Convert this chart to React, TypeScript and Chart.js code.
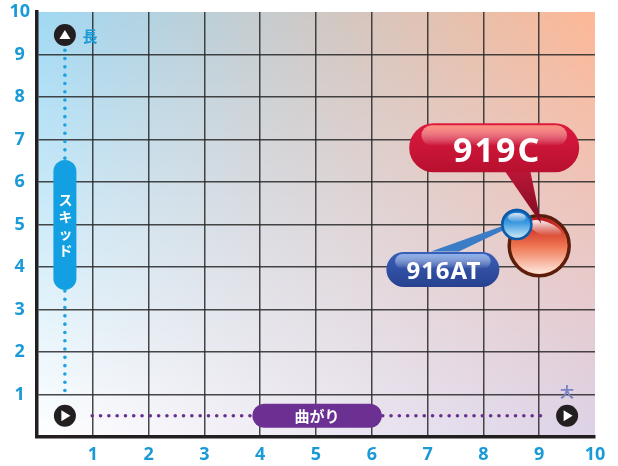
import React, { useEffect, useRef } from 'react';
import { Chart, registerables } from 'chart.js';

Chart.register(...registerables);

// ---- data ----
const xTickLabels = ['', '1', '2', '3', '4', '5', '6', '7', '8', '9', '10'];
const yTickLabels = ['', '1', '2', '3', '4', '5', '6', '7', '8', '9', '10'];
const productNames = ['919C', '916AT'];
const curveValues = [9.0, 8.6]; // x: 曲がり
const skidValues = [4.5, 5.0]; // y: スキッド
const yAxisTitle = 'スキッド';
const xAxisTitle = '曲がり';
const yEndLabel = '長';
const xEndLabel = '大';

const FONT = '"Noto Sans", "DejaVu Sans", sans-serif';
const JFONT = '"Noto Sans CJK JP", "Noto Sans", sans-serif';

type RGB = [number, number, number];
const mix = (a: RGB, b: RGB, t: number): RGB => [0, 1, 2].map(i => Math.round(a[i] + (b[i] - a[i]) * t)) as RGB;
const rgb = (c: RGB) => `rgb(${c[0]},${c[1]},${c[2]})`;

const bgPlugin = {
  id: 'bgGradient',
  beforeDraw(chart: any) {
    const { ctx, chartArea: a } = chart;
    const TL: RGB = [160, 217, 244];
    const TR: RGB = [253, 184, 150];
    const BL: RGB = [255, 255, 255];
    const BR: RGB = [220, 211, 232];
    ctx.save();
    const top = Math.floor(a.top);
    const bottom = Math.ceil(a.bottom);
    for (let y = top; y < bottom; y++) {
      const t = (y - top) / (bottom - top);
      const L = mix(TL, BL, t);
      const R = mix(TR, BR, t);
      const g = ctx.createLinearGradient(a.left, 0, a.right, 0);
      g.addColorStop(0, rgb(L));
      g.addColorStop(1, rgb(R));
      ctx.fillStyle = g;
      ctx.fillRect(a.left, y, a.right - a.left, 1);
    }
    ctx.restore();
  },
};

function iconCircle(ctx: CanvasRenderingContext2D, x: number, y: number, dir: 'up' | 'right') {
  ctx.beginPath();
  ctx.arc(x, y, 11, 0, Math.PI * 2);
  ctx.fillStyle = '#231f20';
  ctx.fill();
  ctx.beginPath();
  if (dir === 'up') {
    ctx.moveTo(x, y - 5);
    ctx.lineTo(x + 5.5, y + 4);
    ctx.lineTo(x - 5.5, y + 4);
  } else {
    ctx.moveTo(x + 5.5, y);
    ctx.lineTo(x - 3.5, y + 5.5);
    ctx.lineTo(x - 3.5, y - 5.5);
  }
  ctx.closePath();
  ctx.fillStyle = '#ffffff';
  ctx.fill();
}

const decorPlugin = {
  id: 'decor',
  beforeDatasetsDraw(chart: any) {
    const { ctx } = chart;
    const xs = chart.scales.x;
    const ys = chart.scales.y;
    const px = (v: number) => xs.getPixelForValue(v);
    const py = (v: number) => ys.getPixelForValue(v);
    ctx.save();

    // vertical blue dotted line
    const vx = px(0.5);
    ctx.fillStyle = '#1ca3e2';
    for (let y = py(9.1); y <= py(1.05); y += 8.3) {
      ctx.beginPath();
      ctx.arc(vx, y, 1.8, 0, Math.PI * 2);
      ctx.fill();
    }
    // blue pill
    const pillTop = py(6.52);
    const pillBot = py(3.46);
    ctx.beginPath();
    ctx.roundRect(vx - 11.5, pillTop, 23, pillBot - pillTop, 11.5);
    ctx.fillStyle = '#12a0e2';
    ctx.fill();
    ctx.fillStyle = '#ffffff';
    ctx.font = `bold 14px ${JFONT}`;
    ctx.textAlign = 'center';
    ctx.textBaseline = 'middle';
    const chars = Array.from(yAxisTitle);
    const mid = (pillTop + pillBot) / 2;
    const step = 17;
    chars.forEach((c, i) => {
      ctx.fillText(c, vx + 0.5, mid + (i - (chars.length - 1) / 2) * step);
    });

    // horizontal purple dotted line
    const hy = py(0.5);
    ctx.fillStyle = '#6a2f8f';
    for (let x = px(0.99); x <= px(9.05); x += 8.3) {
      ctx.beginPath();
      ctx.arc(x, hy, 1.8, 0, Math.PI * 2);
      ctx.fill();
    }
    // purple pill
    const pl = px(3.86);
    const pr = px(6.18);
    ctx.beginPath();
    ctx.roundRect(pl, hy - 12, pr - pl, 24, 12);
    ctx.fillStyle = '#6c3093';
    ctx.fill();
    ctx.fillStyle = '#ffffff';
    ctx.font = `bold 15px ${JFONT}`;
    ctx.fillText(xAxisTitle, (pl + pr) / 2, hy + 0.5);

    // icons
    iconCircle(ctx, px(0.5), py(9.46), 'up');
    iconCircle(ctx, px(0.5), hy, 'right');
    iconCircle(ctx, px(9.5), hy, 'right');

    ctx.font = `bold 15px ${JFONT}`;
    ctx.fillStyle = '#1c9ad8';
    ctx.fillText(yEndLabel, px(0.5) + 25, py(9.46) + 1);
    ctx.fillStyle = '#7d82c4';
    ctx.font = `bold 14px ${JFONT}`;
    ctx.fillText(xEndLabel, px(9.5), hy - 24);

    ctx.restore();
  },
};

function pill(ctx: CanvasRenderingContext2D, cx: number, cy: number, w: number, h: number, base: string, dark: string, light: string) {
  const x = cx - w / 2;
  const y = cy - h / 2;
  ctx.beginPath();
  ctx.roundRect(x, y, w, h, h / 2);
  const g = ctx.createLinearGradient(0, y, 0, y + h);
  g.addColorStop(0, base);
  g.addColorStop(1, dark);
  ctx.fillStyle = g;
  ctx.fill();
  // gloss band
  ctx.beginPath();
  ctx.roundRect(x + h * 0.25, y + 2, w - h * 0.5, h * 0.42, h * 0.21);
  const g2 = ctx.createLinearGradient(0, y + 2, 0, y + 2 + h * 0.42);
  g2.addColorStop(0, light);
  g2.addColorStop(1, 'rgba(255,255,255,0)');
  ctx.fillStyle = g2;
  ctx.fill();
}

const calloutPlugin = {
  id: 'callouts',
  afterDatasetsDraw(chart: any) {
    const { ctx } = chart;
    const big = chart.getDatasetMeta(0).data[0];
    const small = chart.getDatasetMeta(0).data[1];
    if (!big || !small) return;
    ctx.save();

    // big circle gloss
    const bx = big.x, by = big.y;
    const br = 28.2;
    ctx.beginPath();
    ctx.arc(bx, by, br, 0, Math.PI * 2);
    const gb = ctx.createLinearGradient(0, by - br, 0, by + br);
    gb.addColorStop(0, '#b8171f');
    gb.addColorStop(0.2, '#d23a2c');
    gb.addColorStop(0.5, '#ef7450');
    gb.addColorStop(1, '#fde8de');
    ctx.fillStyle = gb;
    ctx.fill();
    ctx.beginPath();
    ctx.ellipse(bx + 6, by - 17, 17, 7, 0.35, 0, Math.PI * 2);
    const gh = ctx.createLinearGradient(0, by - 24, 0, by - 10);
    gh.addColorStop(0, 'rgba(255,255,255,0.85)');
    gh.addColorStop(1, 'rgba(255,255,255,0)');
    ctx.fillStyle = gh;
    ctx.fill();

    // red pointer
    ctx.beginPath();
    ctx.moveTo(bx - 38, by - 80);
    ctx.lineTo(bx - 10, by - 80);
    ctx.lineTo(bx + 2, by - 22);
    ctx.closePath();
    const gp = ctx.createLinearGradient(0, by - 80, 0, by - 22);
    gp.addColorStop(0, '#c3173a');
    gp.addColorStop(1, '#7a0c20');
    ctx.fillStyle = gp;
    ctx.fill();

    // red pill
    const rcx = bx - 45, rcy = by - 98;
    pill(ctx, rcx, rcy, 170, 49, '#dc1a3e', '#b8102f', 'rgba(255,150,130,0.95)');
    ctx.fillStyle = '#ffffff';
    ctx.font = `bold 34px ${FONT}`;
    ctx.textAlign = 'center';
    ctx.textBaseline = 'middle';
    (ctx as any).letterSpacing = '2px';
    ctx.fillText(productNames[0], rcx + 3, rcy + 5);

    // blue pointer
    const sx = small.x, sy = small.y;
    ctx.beginPath();
    ctx.moveTo(sx - 86, sy + 27);
    ctx.lineTo(sx - 58, sy + 27);
    ctx.lineTo(sx - 12, sy + 5);
    ctx.lineTo(sx - 13, sy + 1);
    ctx.closePath();
    ctx.fillStyle = '#3b7cc6';
    ctx.fill();

    // blue pill
    const pcx = sx - 74, pcy = sy + 45;
    pill(ctx, pcx, pcy, 113, 35, '#3a5fb8', '#27418f', 'rgba(150,185,240,0.9)');
    ctx.fillStyle = '#ffffff';
    ctx.font = `bold 24px ${FONT}`;
    (ctx as any).letterSpacing = '1px';
    ctx.fillText(productNames[1], pcx + 1, pcy + 3);
    (ctx as any).letterSpacing = '0px';

    // small circle full redraw
    const sr = 14.5;
    ctx.beginPath();
    ctx.arc(sx, sy, sr, 0, Math.PI * 2);
    const gs = ctx.createLinearGradient(0, sy - sr, 0, sy + sr);
    gs.addColorStop(0, '#1570c4');
    gs.addColorStop(0.45, '#3d9be0');
    gs.addColorStop(1, '#d6eefa');
    ctx.fillStyle = gs;
    ctx.fill();
    ctx.lineWidth = 2.5;
    ctx.strokeStyle = '#0c5aa8';
    ctx.stroke();
    ctx.beginPath();
    ctx.ellipse(sx, sy - 7, 9, 4.5, 0, 0, Math.PI * 2);
    const gsh = ctx.createLinearGradient(0, sy - 12, 0, sy - 3);
    gsh.addColorStop(0, 'rgba(255,255,255,0.9)');
    gsh.addColorStop(1, 'rgba(255,255,255,0.1)');
    ctx.fillStyle = gsh;
    ctx.fill();

    ctx.restore();
  },
};

const zeroPad = (s: any) => {
  s.paddingLeft = 0;
  s.paddingRight = 0;
  s.paddingTop = 0;
  s.paddingBottom = 0;
};

export default function App() {
  const ref = useRef<HTMLCanvasElement>(null);

  useEffect(() => {
    if (!ref.current) return;
    const chart = new Chart(ref.current, {
      type: 'scatter',
      data: {
        datasets: [
          {
            label: 'products',
            data: curveValues.map((x, i) => ({ x, y: skidValues[i] })),
            pointRadius: [30, 14.5],
            pointHoverRadius: [30, 14.5],
            backgroundColor: ['#e8583a', '#3d9be0'],
            borderColor: ['#5a1f0c', '#0c5aa8'],
            borderWidth: [3.5, 2.5],
          },
        ],
      },
      options: {
        animation: false,
        responsive: true,
        maintainAspectRatio: false,
        layout: { autoPadding: false, padding: { top: 12, right: 23, left: 0, bottom: 0 } },
        plugins: {
          legend: { display: false },
          tooltip: { enabled: false },
        },
        scales: {
          x: {
            type: 'linear',
            min: 0,
            max: 10,
            afterFit: (s: any) => {
              s.height = 29;
              zeroPad(s);
            },
            border: { color: '#231f20', width: 3.5 },
            grid: {
              drawTicks: false,
              lineWidth: 1.5,
              color: (c: any) => (c.tick && (c.tick.value === 0 || c.tick.value === 10) ? 'rgba(0,0,0,0)' : 'rgba(40,40,40,0.85)'),
            },
            ticks: {
              stepSize: 1,
              padding: 7,
              color: '#1a9ad7',
              font: { family: FONT, size: 18, weight: 'bold' },
              callback: (v: any) => xTickLabels[Math.round(v)] ?? '',
              maxRotation: 0,
              autoSkip: false,
            },
          },
          y: {
            type: 'linear',
            min: 0,
            max: 10,
            afterFit: (s: any) => {
              s.width = 37;
              zeroPad(s);
            },
            border: { color: '#231f20', width: 3.5 },
            grid: {
              drawTicks: false,
              lineWidth: 1.5,
              color: (c: any) => (c.tick && (c.tick.value === 0 || c.tick.value === 10) ? 'rgba(0,0,0,0)' : 'rgba(40,40,40,0.85)'),
            },
            ticks: {
              stepSize: 1,
              padding: 7,
              crossAlign: 'center',
              color: '#1a9ad7',
              font: { family: FONT, size: 18, weight: 'bold' },
              callback: (v: any) => yTickLabels[Math.round(v)] ?? '',
              autoSkip: false,
            },
          },
        },
      } as any,
      plugins: [bgPlugin, decorPlugin, calloutPlugin],
    });
    return () => chart.destroy();
  }, []);

  return (
    <div style={{ position: 'fixed', left: 0, top: 0, width: 618, height: 466, background: '#ffffff' }}>
      <canvas ref={ref} />
    </div>
  );
}
